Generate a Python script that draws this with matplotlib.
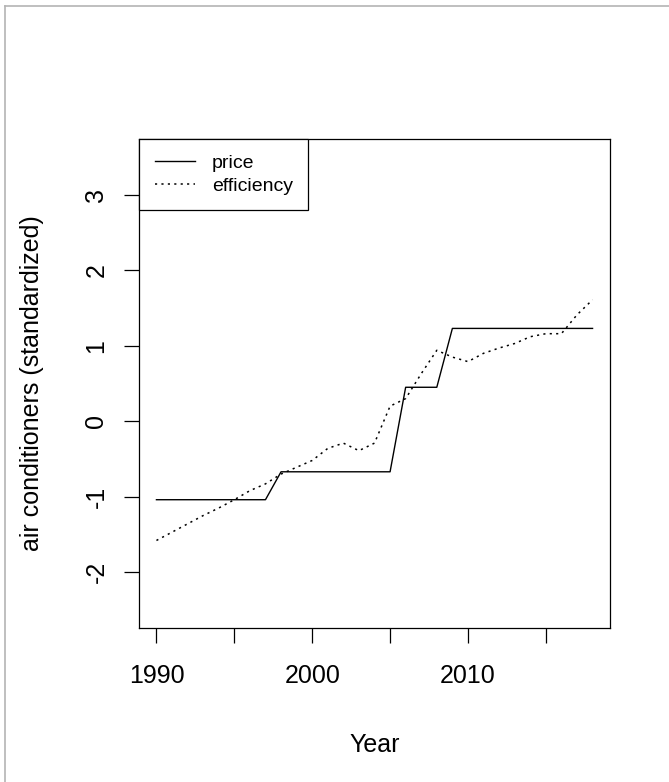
import matplotlib
matplotlib.use("Agg")
import matplotlib.pyplot as plt
from matplotlib.lines import Line2D

plt.rcParams['font.family'] = ['Liberation Sans', 'DejaVu Sans']

# standardized series, one value per year
years = list(range(1990, 2019))
price = [-1.04] * 8 + [-0.67] * 8 + [0.45] * 3 + [1.23] * 10
efficiency = [-1.58, -1.47, -1.36, -1.25, -1.15, -1.04, -0.92, -0.83,
              -0.70, -0.61, -0.52, -0.36, -0.29, -0.39, -0.29, 0.20,
              0.30, 0.63, 0.94, 0.85, 0.79, 0.90, 0.97, 1.03,
              1.12, 1.16, 1.16, 1.41, 1.61]

W, H = 669, 782
fig = plt.figure(figsize=(W / 100, H / 100), dpi=100)
fig.patch.set_facecolor('white')

# light frame along the left and top edges
fig.add_artist(Line2D([5 / W, 5 / W], [0, 1 - 6 / H], color='#b4b4b4', lw=1.2,
                      transform=fig.transFigure))
fig.add_artist(Line2D([5 / W, 1], [1 - 6 / H, 1 - 6 / H], color='#b4b4b4', lw=1.2,
                      transform=fig.transFigure))

ax = fig.add_axes([139 / W, 1 - 628 / H, (610 - 139) / W, (628 - 139) / H])

ax.plot(years, price, color='black', lw=1.0, label='price')
ax.plot(years, efficiency, color='black', lw=1.1, linestyle=(0, (1.4, 2.8)),
        label='efficiency')

ax.set_xlim(1988.88, 2019.12)
ax.set_ylim(-2.74, 3.74)
ax.set_xticks([1990, 1995, 2000, 2005, 2010, 2015])
ax.set_xticklabels(['1990', '', '2000', '', '2010', ''])
ax.set_yticks([-2, -1, 0, 1, 2, 3])
ax.set_yticklabels(['-2', '-1', '0', '1', '2', '3'], rotation=90, va='center')

for s in ax.spines.values():
    s.set_linewidth(0.9)
ax.tick_params(axis='both', direction='out', length=11, width=0.9,
               labelsize=18, colors='black')
ax.tick_params(axis='x', pad=15)
ax.tick_params(axis='y', pad=11)

ax.set_xlabel('Year', fontsize=18, va='center')
ax.xaxis.set_label_coords(0.5, -0.239)
ax.set_ylabel('air conditioners (standardized)', fontsize=18, va='center')
ax.yaxis.set_label_coords(-0.227, 0.5)

leg = ax.legend(loc='upper left', bbox_to_anchor=(0, 1), borderaxespad=0,
                fontsize=14, frameon=True, fancybox=False, framealpha=1,
                edgecolor='black', handlelength=2.1, handletextpad=0.85,
                borderpad=0.8, labelspacing=0.25)
leg.get_frame().set_linewidth(0.9)

fig.savefig('out.png', dpi=100, facecolor='white')
